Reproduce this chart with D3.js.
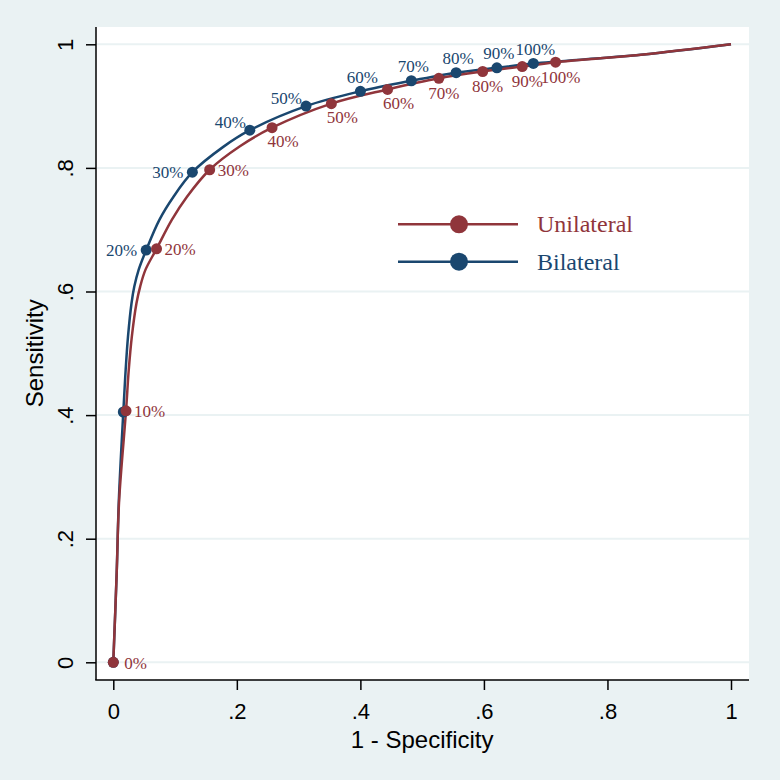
<!DOCTYPE html>
<html>
<head>
<meta charset="utf-8">
<script src="https://cdn.jsdelivr.net/npm/d3@7/dist/d3.min.js"></script>
<style>
  html, body { margin: 0; padding: 0; background: #eaf2f3; }
  svg { display: block; }
</style>
</head>
<body>
<svg id="chart" width="780" height="780"></svg>
<script>
// ---------------- data ----------------
const seriesNames = ["Unilateral", "Bilateral"];
const pctLabels = ["0%", "10%", "20%", "30%", "40%", "50%", "60%", "70%", "80%", "90%", "100%"];

// marked cut-points (1 - specificity, sensitivity)
const unilateralFpr  = [0, 0.0206, 0.0700, 0.156, 0.257, 0.353, 0.444, 0.527, 0.598, 0.662, 0.716];
const unilateralSens = [0, 0.407, 0.669, 0.797, 0.865, 0.904, 0.927, 0.945, 0.956, 0.964, 0.971];
const bilateralFpr   = [0, 0.0162, 0.0532, 0.128, 0.221, 0.312, 0.400, 0.4825, 0.555, 0.621, 0.680];
const bilateralSens  = [0, 0.405, 0.667, 0.793, 0.861, 0.900, 0.924, 0.941, 0.954, 0.962, 0.969];

// ROC curves
const unilateralCurveX = [0, 0.0055, 0.0095, 0.0206, 0.0250, 0.0300, 0.0375, 0.0435, 0.0520, 0.0700, 0.0947, 0.119, 0.156, 0.205, 0.257, 0.353, 0.444, 0.527, 0.598, 0.662, 0.716, 0.854, 1];
const unilateralCurveY = [0, 0.145, 0.263, 0.407, 0.473, 0.527, 0.581, 0.608, 0.635, 0.669, 0.716, 0.753, 0.797, 0.835, 0.865, 0.904, 0.927, 0.945, 0.956, 0.964, 0.971, 0.983, 1];
const bilateralCurveX  = [0, 0.0055, 0.009, 0.0162, 0.0200, 0.0238, 0.0295, 0.0340, 0.0410, 0.0532, 0.0746, 0.0972, 0.128, 0.178, 0.221, 0.312, 0.400, 0.4825, 0.555, 0.621, 0.680, 0.854, 1];
const bilateralCurveY  = [0, 0.145, 0.263, 0.405, 0.473, 0.527, 0.581, 0.608, 0.635, 0.667, 0.716, 0.753, 0.793, 0.834, 0.861, 0.900, 0.924, 0.941, 0.954, 0.962, 0.969, 0.983, 1];

const xTicks = [0, 0.2, 0.4, 0.6, 0.8, 1];
const yTicks = [0, 0.2, 0.4, 0.6, 0.8, 1];
const xTickLabels = ["0", ".2", ".4", ".6", ".8", "1"];
const yTickLabels = ["0", ".2", ".4", ".6", ".8", "1"];
const xTitle = "1 - Specificity";
const yTitle = "Sensitivity";

// ---------------- style ----------------
const RED = "#90353b", BLUE = "#1a476f", GRID = "#eaf2f3";
const SANS = "'Liberation Sans', Arial, Helvetica, sans-serif";
const SERIF = "'Liberation Serif', 'Times New Roman', serif";

const svg = d3.select("#chart");
const plot = { left: 96, right: 749, top: 27, bottom: 680 };

const x = d3.scaleLinear().domain([0, 1]).range([113.3, 731]);
const y = d3.scaleLinear().domain([0, 1]).range([662.3, 44.3]);

// background
svg.append("rect").attr("width", 780).attr("height", 780).attr("fill", "#eaf2f3");
svg.append("rect")
  .attr("x", plot.left).attr("y", plot.top)
  .attr("width", plot.right - plot.left).attr("height", plot.bottom - plot.top)
  .attr("fill", "#ffffff");

// gridlines
svg.append("g").selectAll("line").data(yTicks).join("line")
  .attr("x1", plot.left + 1).attr("x2", plot.right)
  .attr("y1", d => y(d)).attr("y2", d => y(d))
  .attr("stroke", GRID).attr("stroke-width", 2);

// axes
const xAxis = svg.append("g").attr("transform", `translate(0,${plot.bottom})`)
  .call(d3.axisBottom(x).tickValues(xTicks).tickSize(10).tickFormat((d, i) => xTickLabels[i]));
xAxis.select(".domain").remove();
xAxis.selectAll(".tick line").attr("stroke", "#000").attr("stroke-width", 1.5);
xAxis.selectAll(".tick text").attr("y", 39).attr("dy", 0)
  .attr("font-family", SANS).attr("font-size", 22).attr("fill", "#000");

const yAxis = svg.append("g").attr("transform", `translate(${plot.left},0)`)
  .call(d3.axisLeft(y).tickValues(yTicks).tickSize(10).tickFormat((d, i) => yTickLabels[i]));
yAxis.select(".domain").remove();
yAxis.selectAll(".tick line").attr("stroke", "#000").attr("stroke-width", 1.5);
yAxis.selectAll(".tick text")
  .attr("x", 0).attr("dy", 0)
  .attr("transform", "translate(-23,0) rotate(-90)")
  .attr("text-anchor", "middle")
  .attr("font-family", SANS).attr("font-size", 22).attr("fill", "#000");

svg.append("line").attr("x1", plot.left - 0.75).attr("x2", plot.right)
  .attr("y1", plot.bottom).attr("y2", plot.bottom).attr("stroke", "#000").attr("stroke-width", 1.5);
svg.append("line").attr("x1", plot.left).attr("x2", plot.left)
  .attr("y1", plot.top).attr("y2", plot.bottom).attr("stroke", "#000").attr("stroke-width", 1.5);

// titles
svg.append("text").attr("x", (x(0) + x(1)) / 2).attr("y", 748)
  .attr("text-anchor", "middle").attr("font-family", SANS).attr("font-size", 24)
  .attr("fill", "#000").text(xTitle);
svg.append("text").attr("transform", `translate(43,${(y(0) + y(1)) / 2}) rotate(-90)`)
  .attr("text-anchor", "middle").attr("font-family", SANS).attr("font-size", 24)
  .attr("fill", "#000").text(yTitle);

// curves
const line = d3.line().x(d => x(d[0])).y(d => y(d[1])).curve(d3.curveCatmullRom.alpha(0.5));
const bilCurve = bilateralCurveX.map((v, i) => [v, bilateralCurveY[i]]);
const uniCurve = unilateralCurveX.map((v, i) => [v, unilateralCurveY[i]]);
svg.append("path").datum(bilCurve).attr("d", line).attr("fill", "none")
  .attr("stroke", BLUE).attr("stroke-width", 2.5);
svg.append("path").datum(uniCurve).attr("d", line).attr("fill", "none")
  .attr("stroke", RED).attr("stroke-width", 2.5);

// markers
const bilPts = bilateralFpr.map((v, i) => ({ x: v, y: bilateralSens[i], label: pctLabels[i], i }));
const uniPts = unilateralFpr.map((v, i) => ({ x: v, y: unilateralSens[i], label: pctLabels[i], i }));

svg.append("g").selectAll("circle").data(bilPts).join("circle")
  .attr("cx", d => x(d.x)).attr("cy", d => y(d.y)).attr("r", 5.5).attr("fill", BLUE);
svg.append("g").selectAll("circle").data(uniPts).join("circle")
  .attr("cx", d => x(d.x)).attr("cy", d => y(d.y)).attr("r", 5.5).attr("fill", RED);

// marker labels (offsets relative to marker)
function bilOffset(i) {
  if (i <= 3) return { dx: -9, dy: 0, anchor: "end" };
  if (i <= 5) return { dx: -4, dy: -8, anchor: "end" };
  return { dx: 2, dy: -14, anchor: "middle" };
}
function uniOffset(i) {
  if (i <= 3) return { dx: 8, dy: 1, anchor: "start" };
  if (i <= 6) return { dx: 11, dy: 14, anchor: "middle" };
  return { dx: 5, dy: 15, anchor: "middle" };
}
svg.append("g").selectAll("text").data(bilPts.filter(d => d.i >= 2)).join("text")
  .attr("x", d => x(d.x) + bilOffset(d.i).dx)
  .attr("y", d => y(d.y) + bilOffset(d.i).dy)
  .attr("text-anchor", d => bilOffset(d.i).anchor)
  .attr("dominant-baseline", "central")
  .attr("font-family", SERIF).attr("font-size", 17).attr("fill", BLUE)
  .text(d => d.label);
svg.append("g").selectAll("text").data(uniPts).join("text")
  .attr("x", d => x(d.x) + uniOffset(d.i).dx + (d.i === 0 ? 3 : 0))
  .attr("y", d => y(d.y) + uniOffset(d.i).dy)
  .attr("text-anchor", d => uniOffset(d.i).anchor)
  .attr("dominant-baseline", "central")
  .attr("font-family", SERIF).attr("font-size", 17).attr("fill", RED)
  .text(d => d.label);

// legend
const legend = svg.append("g");
const legColors = [RED, BLUE];
const legY = [224.3, 261.7];
seriesNames.forEach((name, i) => {
  legend.append("line").attr("x1", 398).attr("x2", 518)
    .attr("y1", legY[i]).attr("y2", legY[i])
    .attr("stroke", legColors[i]).attr("stroke-width", 2.5);
  legend.append("circle").attr("cx", 459).attr("cy", legY[i]).attr("r", 9).attr("fill", legColors[i]);
  legend.append("text").attr("x", 537).attr("y", legY[i])
    .attr("dominant-baseline", "central")
    .attr("font-family", SERIF).attr("font-size", 24).attr("fill", legColors[i])
    .text(name);
});
</script>
</body>
</html>
